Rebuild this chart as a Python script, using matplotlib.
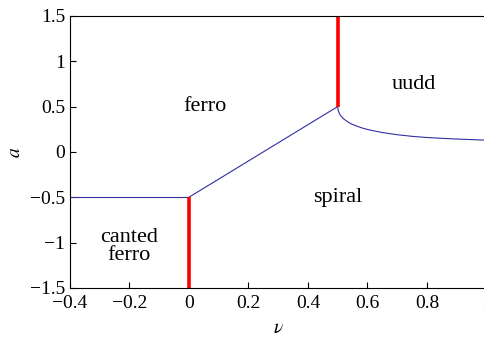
import numpy as np
import matplotlib
matplotlib.use('Agg')
import matplotlib.pyplot as plt

plt.rcParams['font.family'] = ['Liberation Serif', 'DejaVu Serif']
plt.rcParams['mathtext.fontset'] = 'stix'

# phase boundaries
nu_left = [-0.4, 0.0]
a_left = [-0.5, -0.5]
nu_mid = [0.0, 0.5]
a_mid = [-0.5, 0.5]
nu_curve = [0.5, 0.502, 0.505, 0.51, 0.52, 0.53, 0.545, 0.56, 0.58, 0.6, 0.625,
            0.65, 0.7, 0.75, 0.8, 0.85, 0.9, 0.95, 1.0]
a_curve = [0.5, 0.455, 0.43, 0.40, 0.365, 0.34, 0.31, 0.29, 0.266, 0.248, 0.23,
           0.214, 0.19, 0.172, 0.159, 0.15, 0.142, 0.136, 0.13]
red_x = [0.0, 0.5]
red_lo = [-1.5, 0.5]
red_hi = [-0.5, 1.5]

xticks = [-0.4, -0.2, 0, 0.2, 0.4, 0.6, 0.8, 1]
yticks = [-1.5, -1, -0.5, 0, 0.5, 1, 1.5]

fig = plt.figure(figsize=(4.85, 3.38), dpi=100)
ax = fig.add_axes([0.144, 0.148, 0.859, 0.805])

blue = '#3030a0'
ax.plot(nu_left, a_left, color=blue, lw=0.8)
ax.plot(nu_mid, a_mid, color=blue, lw=0.8)
ax.plot(nu_curve, a_curve, color=blue, lw=0.8)
for x, lo, hi in zip(red_x, red_lo, red_hi):
    ax.plot([x, x], [lo, hi], color='red', lw=2.6, solid_capstyle='butt')

ax.text(0.055, 0.5, 'ferro', ha='center', va='center', fontsize=16)
ax.text(0.755, 0.74, 'uudd', ha='center', va='center', fontsize=16)
ax.text(0.5, -0.5, 'spiral', ha='center', va='center', fontsize=16)
ax.text(-0.2, -1.04, 'canted\nferro', ha='center', va='center', fontsize=16,
        linespacing=0.9)

ax.set_xlim(-0.4, 1)
ax.set_ylim(-1.5, 1.5)
ax.set_xticks(xticks)
ax.set_yticks(yticks)
ax.set_xticklabels(['\u22120.4', '\u22120.2', '0', '0.2', '0.4', '0.6', '0.8', '1'])
ax.set_yticklabels(['\u22121.5', '\u22121', '\u22120.5', '0', '0.5', '1', '1.5'])
ax.tick_params(direction='in', length=4, width=0.8, labelsize=14, top=False, right=False)
ax.tick_params(axis='x', pad=5)
ax.set_xlabel(r'$\nu$', fontsize=14, labelpad=6)
ax.set_ylabel(r'$a$', fontsize=14)
for s in ax.spines.values():
    s.set_linewidth(0.8)

fig.savefig('out.png', dpi=100)
